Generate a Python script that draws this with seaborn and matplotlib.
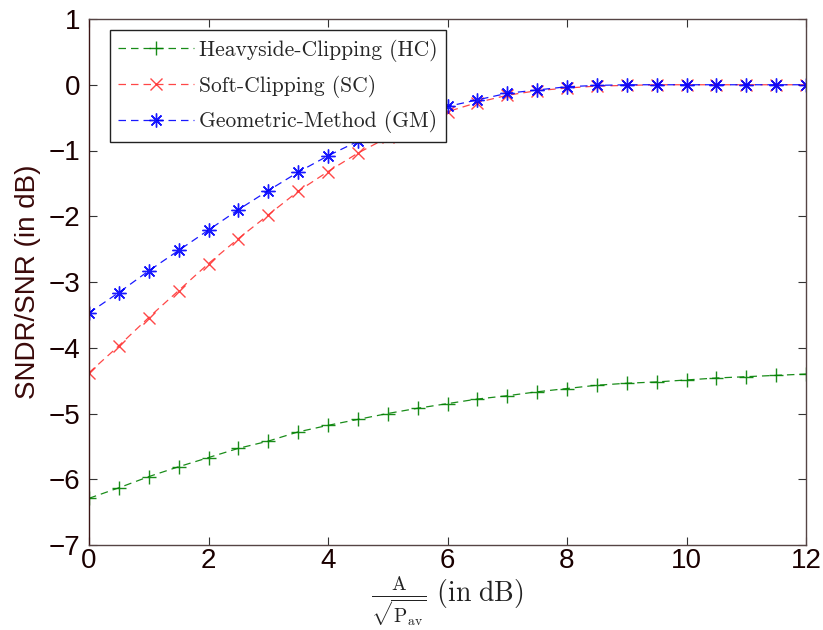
import numpy as np
import pandas as pd
import seaborn as sns
import matplotlib
matplotlib.use("Agg")
import matplotlib.pyplot as plt

x_db = [0, 0.5, 1, 1.5, 2, 2.5, 3, 3.5, 4, 4.5, 5, 5.5, 6, 6.5, 7, 7.5, 8, 8.5, 9, 9.5, 10, 10.5, 11, 11.5, 12]
hc = [-6.29, -6.13, -5.96, -5.81, -5.67, -5.53, -5.42, -5.28, -5.18, -5.09, -5.00, -4.92, -4.85,
      -4.78, -4.73, -4.67, -4.62, -4.57, -4.54, -4.52, -4.49, -4.46, -4.44, -4.42, -4.40]
sc = [-4.38, -3.97, -3.54, -3.13, -2.72, -2.34, -1.98, -1.62, -1.32, -1.04, -0.80, -0.59, -0.41,
      -0.27, -0.16, -0.09, -0.05, -0.02, -0.01, 0.0, 0.0, 0.0, 0.0, 0.0, 0.0]
gm = [-3.47, -3.16, -2.83, -2.52, -2.21, -1.90, -1.61, -1.33, -1.08, -0.86, -0.66, -0.48, -0.33,
      -0.23, -0.13, -0.08, -0.03, -0.01, 0.0, 0.0, 0.0, 0.0, 0.0, 0.0, 0.0]
labels = ["Heavyside-Clipping (HC)", "Soft-Clipping (SC)", "Geometric-Method (GM)"]
colors = ["#008000", "#ff3333", "#0000ff"]
markers = ["+", "x", (8, 2, 0)]
x_ticks = [0, 2, 4, 6, 8, 10, 12]
y_ticks = [-7, -6, -5, -4, -3, -2, -1, 0, 1]

sns.set_theme(style="white")
plt.rcParams["mathtext.fontset"] = "cm"
plt.rcParams["font.family"] = ["Liberation Sans", "DejaVu Sans"]

df = pd.DataFrame({
    "x": x_db * 3,
    "y": hc + sc + gm,
    "series": sum([[l] * len(x_db) for l in labels], []),
})

fig = plt.figure(figsize=(8.23, 6.30), dpi=100)
ax = fig.add_axes([89 / 823, 1 - 545 / 630, (806 - 89) / 823, (545 - 19) / 630])

msizes = [10, 8.5, 10]
for lab, col, mk, ms in zip(labels, colors, markers, msizes):
    sub = df[df["series"] == lab]
    sns.lineplot(data=sub, x="x", y="y", ax=ax, color=col, marker=mk, linestyle=(0, (6, 4)),
                 linewidth=0.9, markersize=ms, markeredgewidth=1.0,
                 markeredgecolor=col, label=lab, alpha=0.9)

ax.set_xlim(0, 12)
ax.set_ylim(-7, 1)
ax.set_xticks(x_ticks)
ax.set_yticks(y_ticks)
ax.set_xticklabels([str(t) for t in x_ticks])
ax.set_yticklabels([str(t).replace("-", "\u2212") for t in y_ticks])
ax.tick_params(direction="in", length=6, width=0.8, labelsize=20, top=True, right=True,
               bottom=True, left=True, colors="#333333", labelcolor="#1a0000")
ax.tick_params(axis="y", pad=6)
ax.tick_params(axis="x", pad=2)
for s in ax.spines.values():
    s.set_color("#554444")
    s.set_linewidth(1.0)
ax.spines["left"].set_color("#3b1515")

ax.set_ylabel("SNDR/SNR (in dB)", fontsize=20, color="#3b0a0a", labelpad=6)
ax.set_xlabel(r"$\frac{\mathrm{A}}{\sqrt{\mathrm{P_{av}}}}\ \mathrm{(in\ dB)}$", fontsize=20, color="#222222",
              labelpad=1)

leg = ax.legend(loc="upper left", bbox_to_anchor=(0.029, 0.979), borderaxespad=0, frameon=True,
                fancybox=False, edgecolor="#222222", framealpha=1, handlelength=3.5, handletextpad=0.25,
                labelspacing=0.6, borderpad=0.4, prop={"family": "cmr10", "size": 15.5})
leg.get_frame().set_linewidth(1.0)

fig.savefig("out.png", dpi=100)
